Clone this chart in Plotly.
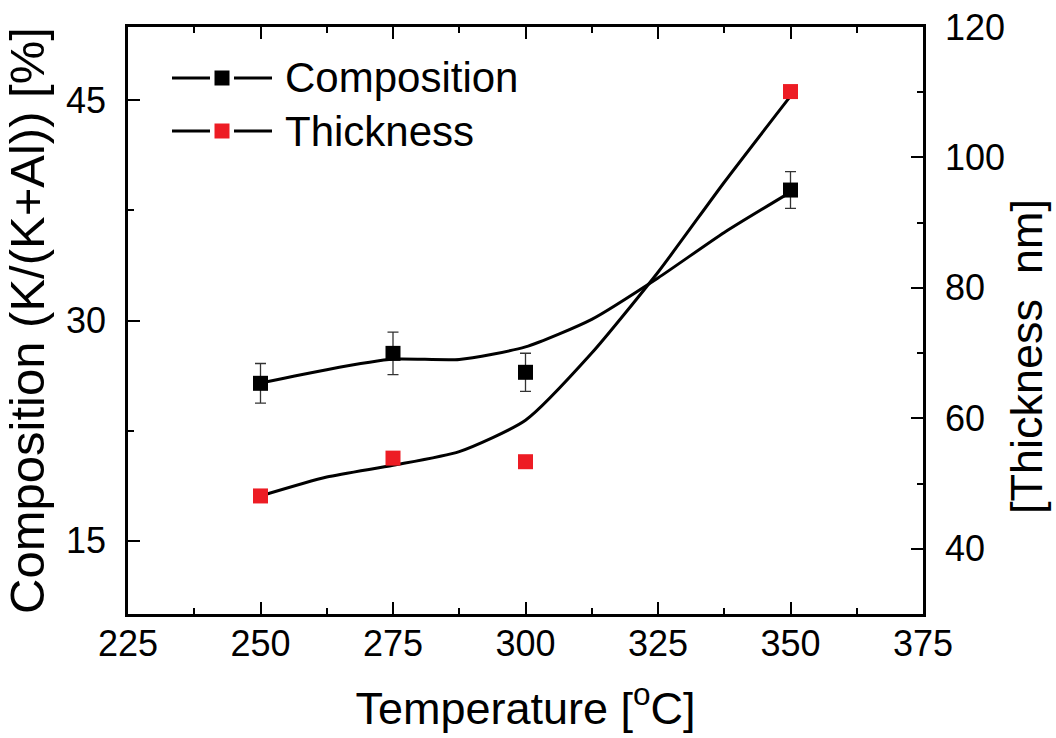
import plotly.graph_objects as go

# Measured data
temperature = [250, 275, 300, 350]
composition = [25.72, 27.76, 26.47, 38.89]          # K/(K+Al) [%]
composition_err = [1.35, 1.45, 1.3, 1.25]
thickness = [48.1, 53.9, 53.35, 110.1]              # nm

# Smoothed guide curves
fit_temperature = [250, 262.5, 275, 287.5, 300, 312.5, 325, 337.5, 350]
composition_fit = [25.74, 26.65, 27.37, 27.35, 28.2, 30.08, 32.9, 36.0, 38.75]
thickness_fit = [48.1, 51.0, 52.8, 54.9, 59.7, 70.0, 82.4, 96.2, 109.4]

FONT = "Liberation Sans, Arial, sans-serif"
RED = "#ED1C24"

W, H = 1056, 738
ML, MR, MT, MB = 128, 133, 27, 124
PW, PH = W - ML - MR, H - MT - MB


def px(x):
    return (x - ML) / PW


def py(y):
    return (MT + PH - y) / PH


fig = go.Figure()

fig.add_trace(go.Scatter(
    x=fit_temperature, y=composition_fit, mode="lines",
    line=dict(color="black", width=3, shape="spline", smoothing=0.6),
    showlegend=False, yaxis="y"))
fig.add_trace(go.Scatter(
    x=fit_temperature, y=thickness_fit, mode="lines",
    line=dict(color="black", width=3, shape="spline", smoothing=0.6),
    showlegend=False, yaxis="y2"))

fig.add_trace(go.Scatter(
    x=temperature, y=composition, mode="markers", name="Composition",
    marker=dict(symbol="square", size=15, color="black", line=dict(width=0)),
    error_y=dict(type="data", array=composition_err, visible=True,
                 color="#333333", thickness=1.3, width=5.5),
    showlegend=False, yaxis="y"))
fig.add_trace(go.Scatter(
    x=temperature, y=thickness, mode="markers", name="Thickness",
    marker=dict(symbol="square", size=15, color=RED, line=dict(width=0)),
    showlegend=False, yaxis="y2"))

# Legend drawn as line-marker-line glyphs with text
shapes = []
annotations = []
for row_y, colour, label in [(78, "black", "Composition"), (131, RED, "Thickness")]:
    yc = py(row_y)
    for x0, x1 in [(172, 210), (234, 272)]:
        shapes.append(dict(type="line", xref="paper", yref="paper",
                           x0=px(x0), x1=px(x1), y0=yc, y1=yc,
                           line=dict(color="black", width=3)))
    shapes.append(dict(type="rect", xref="paper", yref="paper",
                       x0=px(214.5), x1=px(229.5),
                       y0=py(row_y + 7.5), y1=py(row_y - 7.5),
                       fillcolor=colour, line=dict(width=0)))
    annotations.append(dict(text=label, xref="paper", yref="paper",
                            x=px(283), y=yc, xanchor="left", yanchor="middle",
                            showarrow=False,
                            font=dict(family=FONT, size=42, color="black")))

# Right-hand axis title, sitting slightly below the axis centre
annotations.append(dict(text="[Thickness  nm]", xref="paper", yref="paper",
                        x=px(1026), y=py(357), xanchor="center", yanchor="middle",
                        textangle=-90, showarrow=False, borderpad=0,
                        font=dict(family=FONT, size=45, color="black")))

axis_common = dict(
    showline=True, linecolor="black", linewidth=2.5,
    ticks="inside", ticklen=12, tickwidth=2, tickcolor="black",
    showgrid=False, zeroline=False, automargin=False,
    tickfont=dict(family=FONT, size=36, color="black"),
)

fig.update_layout(
    width=W, height=H,
    margin=dict(l=ML, r=MR, t=MT, b=MB, autoexpand=False),
    paper_bgcolor="white", plot_bgcolor="white",
    shapes=shapes, annotations=annotations,
    xaxis=dict(
        **axis_common,
        range=[225, 375], tick0=225, dtick=25, mirror="ticks",
        minor=dict(ticks="inside", ticklen=6, tickwidth=2, tickcolor="black",
                   dtick=12.5, tick0=225),
        ticklabelstandoff=-4,
        title=dict(text="Temperature [<sup>o</sup>C]",
                   font=dict(family=FONT, size=45, color="black"), standoff=30),
    ),
    yaxis=dict(
        **axis_common,
        range=[10, 50], tick0=15, dtick=15,
        minor=dict(ticks="inside", ticklen=6, tickwidth=2, tickcolor="black",
                   dtick=7.5, tick0=15),
        ticklabelstandoff=12,
        title=dict(text="Composition (K/(K+Al)) [%]",
                   font=dict(family=FONT, size=49, color="black"), standoff=12),
    ),
    yaxis2=dict(
        **axis_common,
        overlaying="y", side="right",
        range=[30, 120], tick0=40, dtick=20,
        minor=dict(ticks="inside", ticklen=6, tickwidth=2, tickcolor="black",
                   dtick=10, tick0=40),
        ticklabelstandoff=12,
    ),
)

fig.write_html("out.html")
